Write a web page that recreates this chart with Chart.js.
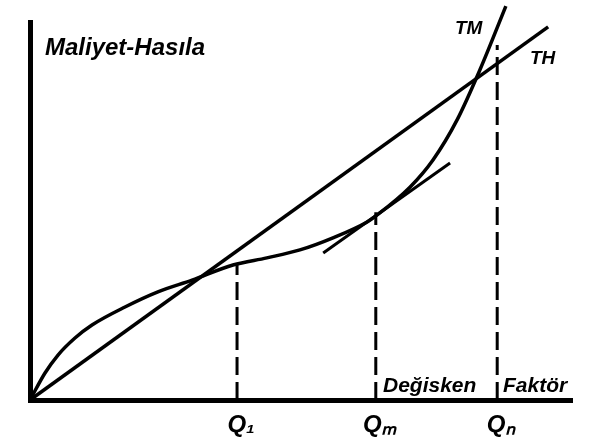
<!DOCTYPE html>
<html>
<head>
<meta charset="utf-8">
<script src="https://cdn.jsdelivr.net/npm/chart.js@4"></script>
<style>
  html, body { margin: 0; padding: 0; background: #fff; }
  #wrap { width: 614px; height: 447px; }
</style>
</head>
<body>
<div id="wrap"><canvas id="chart"></canvas></div>
<script>
// Total revenue (TH) - straight line from origin
const thX = [0, 95.6];
const thY = [0, 98.7];

// Total cost (TM) curve
const tmX = [0, 2.77, 5.17, 8.3, 11.44, 17.53, 23.6, 29.9, 37.45, 43.7, 49.8, 55.9, 62.2, 64.0, 70.1, 74.35, 78.8, 83.0, 87.8];
const tmY = [0, 7.14, 11.9, 16.4, 19.84, 24.6, 28.6, 31.7, 35.7, 37.6, 39.7, 42.9, 47.1, 48.9, 56.3, 63.5, 74.1, 87.3, 104.2];

// tangent to TM at Qm (parallel to TH)
const tangentX = [54.1, 77.5];
const tangentY = [38.9, 62.7];

// dashed drop lines and their labels
const qValues = [38.2, 63.8, 86.2];
const qTops = [35.7, 49.7, 93.9];
const qLabels = ['Q₁', 'Qₘ', 'Qₙ'];

const toPoints = (xs, ys) => xs.map((x, i) => ({ x: x, y: ys[i] }));

const datasets = [
    {
        label: 'TH',
        data: toPoints(thX, thY),
        borderColor: '#000',
        borderWidth: 3.5,
        pointRadius: 0,
        clip: false
    },
    {
        label: 'TM',
        data: toPoints(tmX, tmY),
        borderColor: '#000',
        borderWidth: 3.5,
        pointRadius: 0,
        cubicInterpolationMode: 'monotone',
        clip: false
    },
    {
        label: 'tangent',
        data: toPoints(tangentX, tangentY),
        borderColor: '#000',
        borderWidth: 3,
        pointRadius: 0,
        clip: false
    }
];

qValues.forEach((q, i) => {
    datasets.push({
        label: qLabels[i],
        data: [{ x: q, y: 0 }, { x: q, y: qTops[i] }],
        borderColor: '#000',
        borderWidth: 3,
        borderDash: [18, 7],
        pointRadius: 0,
        clip: false
    });
});

// hand-lettered labels
const textPlugin = {
    id: 'texts',
    afterDraw(chart) {
        const ctx = chart.ctx;
        const xs = chart.scales.x;
        ctx.save();
        ctx.fillStyle = '#000';
        ctx.textBaseline = 'alphabetic';
        ctx.textAlign = 'left';
        ctx.font = 'italic bold 24px "Liberation Sans"';
        ctx.fillText('Maliyet-Hasıla', 45, 55, 214);
        ctx.font = 'italic bold 19px "Liberation Sans"';
        ctx.fillText('TM', 455, 34, 36);
        ctx.fillText('TH', 530, 64, 40);
        ctx.font = 'italic bold 21px "Liberation Sans"';
        ctx.fillText('Değisken', 383, 392, 106);
        ctx.fillText('Faktör', 503, 392, 95);
        ctx.font = 'italic bold 24px "Liberation Sans"';
        ctx.textAlign = 'center';
        qValues.forEach((q, i) => {
            ctx.fillText(qLabels[i], xs.getPixelForValue(q) + 4, 432);
        });
        ctx.restore();
    }
};

const ctx = document.getElementById('chart').getContext('2d');
const chart = new Chart(ctx, {
    type: 'line',
    data: { datasets: datasets },
    options: {
        responsive: true,
        maintainAspectRatio: false,
        animation: false,
        layout: { padding: { left: 30, top: 22, right: 42, bottom: 47 } },
        plugins: {
            legend: { display: false },
            tooltip: { enabled: false }
        },
        scales: {
            x: {
                type: 'linear',
                min: 0,
                max: 100,
                ticks: { display: false },
                grid: { display: false, drawTicks: false },
                border: { display: true, width: 5, color: '#000' }
            },
            y: {
                type: 'linear',
                min: 0,
                max: 100,
                ticks: { display: false },
                grid: { display: false, drawTicks: false },
                border: { display: true, width: 5, color: '#000' }
            }
        }
    },
    plugins: [textPlugin]
});
</script>
</body>
</html>
